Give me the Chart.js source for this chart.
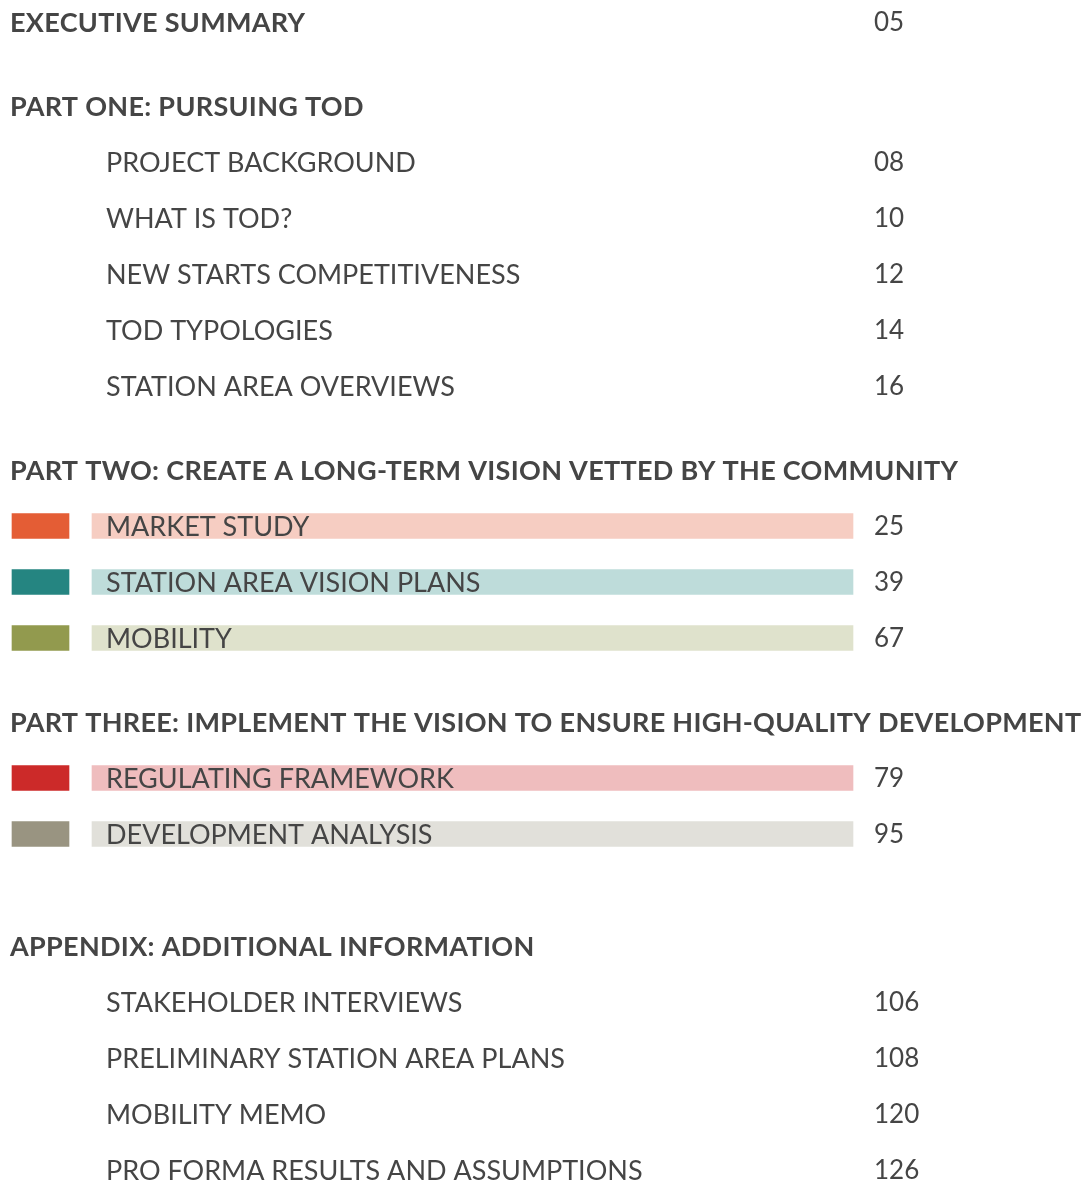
<!DOCTYPE html>
<html>
<head>
<meta charset="utf-8">
<script src="https://cdn.jsdelivr.net/npm/chart.js@4/dist/chart.umd.min.js"></script>
<style>
  html, body { margin: 0; padding: 0; background: #fff; }
  canvas { display: block; }
</style>
</head>
<body>
<canvas id="toc" width="1089" height="1182"></canvas>
<script>
// table of contents rows, top to bottom
const titles = [
    'EXECUTIVE SUMMARY',
    'PART ONE: PURSUING TOD',
    'PROJECT BACKGROUND',
    'WHAT IS TOD?',
    'NEW STARTS COMPETITIVENESS',
    'TOD TYPOLOGIES',
    'STATION AREA OVERVIEWS',
    'PART TWO: CREATE A LONG-TERM VISION VETTED BY THE COMMUNITY',
    'MARKET STUDY',
    'STATION AREA VISION PLANS',
    'MOBILITY',
    'PART THREE: IMPLEMENT THE VISION TO ENSURE HIGH-QUALITY DEVELOPMENT',
    'REGULATING FRAMEWORK',
    'DEVELOPMENT ANALYSIS',
    'APPENDIX: ADDITIONAL INFORMATION',
    'STAKEHOLDER INTERVIEWS',
    'PRELIMINARY STATION AREA PLANS',
    'MOBILITY MEMO',
    'PRO FORMA RESULTS AND ASSUMPTIONS'
];
const pages = ['05', '', '08', '10', '12', '14', '16', '', '25', '39', '67', '', '79', '95', '', '106', '108', '120', '126'];
// h = section heading, i = plain entry, c = colour-coded entry
const kinds = ['h', 'h', 'i', 'i', 'i', 'i', 'i', 'h', 'c', 'c', 'c', 'h', 'c', 'c', 'h', 'i', 'i', 'i', 'i'];
// row slot (half line steps) for each entry
const slots = [0, 3, 5, 7, 9, 11, 13, 16, 18, 20, 22, 25, 27, 29, 33, 35, 37, 39, 41];

const swatchColors = {
    'MARKET STUDY': ['#e45d35', '#f6cdc2'],
    'STATION AREA VISION PLANS': ['#258581', '#bedcda'],
    'MOBILITY': ['#929a4e', '#dfe2cc'],
    'REGULATING FRAMEWORK': ['#cc2a29', '#efbdbe'],
    'DEVELOPMENT ANALYSIS': ['#999481', '#e1e0da']
};

const W = 1089, H = 1182, STEP = 28, TOP = 22;
const swatchX = [12, 69], bandX = [92, 853];
const textX = 106, headX = 10, pageX = 874;
const ink = '#454545';

const colored = titles.map((t, i) => kinds[i] === 'c' ? i : -1).filter(i => i >= 0);

const tocText = {
    id: 'tocText',
    afterDatasetsDraw(chart) {
        const ctx = chart.ctx;
        const xs = chart.scales.x, ys = chart.scales.y;
        ctx.save();
        ctx.fillStyle = ink;
        ctx.textBaseline = 'middle';
        titles.forEach((t, i) => {
            const y = ys.getPixelForValue(slots[i]) + 1;
            if (kinds[i] === 'h') {
                ctx.font = '700 27px Lato';
                ctx.letterSpacing = '0.3px';
                ctx.fillText(t, xs.getPixelForValue(headX), y);
            } else {
                ctx.font = '400 27px Lato';
                ctx.letterSpacing = '0px';
                ctx.fillText(t, xs.getPixelForValue(textX), y);
            }
            if (pages[i]) {
                ctx.font = '400 26px Lato';
                ctx.letterSpacing = '0px';
                ctx.fillText(pages[i], xs.getPixelForValue(pageX), y);
            }
        });
        ctx.restore();
    }
};

new Chart(document.getElementById('toc'), {
    type: 'bar',
    data: {
        datasets: [{
            label: 'swatch',
            data: colored.map(i => ({ x: swatchX, y: slots[i] })),
            backgroundColor: colored.map(i => swatchColors[titles[i]][0]),
            barThickness: 25,
            borderWidth: 0,
            grouped: false
        }, {
            label: 'band',
            data: colored.map(i => ({ x: bandX, y: slots[i] })),
            backgroundColor: colored.map(i => swatchColors[titles[i]][1]),
            barThickness: 25,
            borderWidth: 0,
            grouped: false
        }]
    },
    options: {
        indexAxis: 'y',
        responsive: false,
        maintainAspectRatio: false,
        animation: false,
        layout: { padding: 0 },
        scales: {
            x: { type: 'linear', min: 0, max: W, display: false },
            y: { type: 'linear', reverse: true, offset: false, min: -TOP / STEP, max: (H - TOP) / STEP, display: false }
        },
        plugins: {
            legend: { display: false },
            tooltip: { enabled: false }
        }
    },
    plugins: [tocText]
});
</script>
</body>
</html>
